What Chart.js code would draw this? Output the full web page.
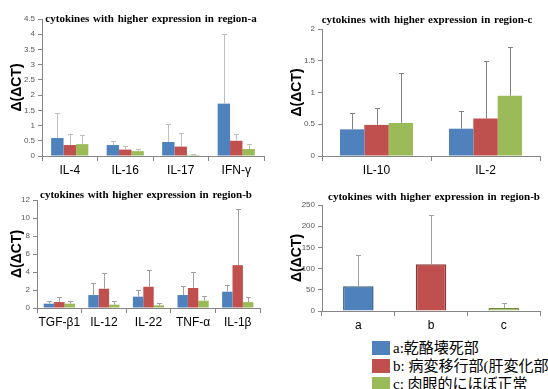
<!DOCTYPE html>
<html>
<head>
<meta charset="utf-8">
<script src="https://cdn.jsdelivr.net/npm/chart.js@4.4.1/dist/chart.umd.min.js"></script>
<style>
  body { margin: 0; background: #fff; }
  #page { position: relative; width: 548px; height: 389px; overflow: hidden; }
  canvas { position: absolute; }
  .title {
    position: absolute; white-space: nowrap; transform: translateX(-50%);
    font: bold 11px "Liberation Serif", "Times New Roman", serif; line-height: 12px; color: #000;
    word-spacing: 1px;
  }
  .leg { position: absolute; left: 372px; height: 15px; white-space: nowrap;
    font: 15px "Liberation Serif", "Noto Sans CJK JP", serif; line-height: 15px; color: #000; }
  .leg i { display: inline-block; width: 18px; height: 14px; vertical-align: top; margin-right: 3px; }
</style>
</head>
<body>
<div id="page">
  <canvas id="c1" width="280" height="180" style="left:0;top:0"></canvas>
  <canvas id="c2" width="268" height="180" style="left:280px;top:0"></canvas>
  <canvas id="c3" width="280" height="160" style="left:0;top:180px"></canvas>
  <canvas id="c4" width="268" height="150" style="left:280px;top:180px"></canvas>

  <div class="title" style="left:151px;top:12px">cytokines with higher expression in region-a</div>
  <div class="title" style="left:427px;top:13px">cytokines with higher expression in region-c</div>
  <div class="title" style="left:146px;top:188px">cytokines with higher expression in region-b</div>
  <div class="title" style="left:434px;top:190px">cytokines with higher expression in region-b</div>

  <div class="leg" style="top:341px"><i style="background:#4F81BD"></i>a:乾酪壊死部</div>
  <div class="leg" style="top:359px"><i style="background:#C0504D"></i>b: 病変移行部(肝変化部)</div>
  <div class="leg" style="top:377px"><i style="background:#9BBB59"></i>c: 肉眼的にほぼ正常</div>
</div>
<script>
/* ---- data ---- */
// region-a panel
const catA = ['IL-4', 'IL-16', 'IL-17', 'IFN-γ'];
const aBlue   = [0.59, 0.36, 0.46, 1.72];
const aBlueSd = [0.81, 0.14, 0.58, 2.28];
const aRed    = [0.36, 0.21, 0.31, 0.50];
const aRedSd  = [0.35, 0.12, 0.43, 0.21];
const aGreen  = [0.39, 0.16, 0.03, 0.23];
const aGreenSd= [0.29, 0.06, 0.02, 0.16];

// region-c panel
const catC = ['IL-10', 'IL-2'];
const cBlue   = [0.42, 0.43];
const cBlueSd = [0.25, 0.28];
const cRed    = [0.49, 0.59];
const cRedSd  = [0.26, 0.90];
const cGreen  = [0.52, 0.95];
const cGreenSd= [0.78, 0.77];

// region-b panel
const catB = ['TGF-β1', 'IL-12', 'IL-22', 'TNF-α', 'IL-1β'];
const bBlue   = [0.48, 1.44, 1.26, 1.44, 1.81];
const bBlueSd = [0.26, 1.33, 0.70, 1.00, 0.74];
const bRed    = [0.66, 2.14, 2.36, 2.22, 4.76];
const bRedSd  = [0.56, 1.74, 1.81, 1.73, 6.21];
const bGreen  = [0.48, 0.37, 0.30, 0.81, 0.66];
const bGreenSd= [0.26, 0.37, 0.25, 0.52, 0.56];

// overall panel (a, b, c)
const catAll = ['a', 'b', 'c'];
const allVals = [58.6, 110, 7];
const allSd   = [72.4, 116, 12.5];

const BLUE = '#4F81BD', RED = '#C0504D', GREEN = '#9BBB59';
const AXIS = '#868686';

/* ---- error bar plugin (upper only, with cap) ---- */
const errorBars = {
  id: 'errorBars',
  afterDatasetsDraw(chart, args, opts) {
    const ctx = chart.ctx;
    const y = chart.scales.y;
    ctx.save();
    ctx.strokeStyle = opts.color || '#999';
    ctx.lineWidth = 1;
    chart.data.datasets.forEach((ds, i) => {
      const meta = chart.getDatasetMeta(i);
      meta.data.forEach((bar, j) => {
        const top = Math.round(y.getPixelForValue(ds.data[j] + ds.sd[j])) + 0.5;
        const x = Math.round(bar.x) + 0.5;
        ctx.beginPath();
        ctx.moveTo(x, bar.y);
        ctx.lineTo(x, top);
        ctx.moveTo(x - 2.5, top);
        ctx.lineTo(x + 2.5, top);
        ctx.stroke();
      });
    });
    ctx.restore();
  }
};

function makeChart(id, labels, datasets, yMax, yStep, g) {
  return new Chart(document.getElementById(id), {
    type: 'bar',
    data: { labels: labels, datasets: datasets },
    plugins: [errorBars],
    options: {
      responsive: false,
      animation: false,
      layout: { padding: { left: 0, right: g.right, top: g.top, bottom: 0 } },
      datasets: { bar: { categoryPercentage: g.cat, barPercentage: g.bar || 1 } },
      plugins: {
        legend: { display: false },
        tooltip: { enabled: false },
        errorBars: { color: g.errColor }
      },
      scales: {
        x: {
          afterFit: s => { s.height = g.xh; },
          grid: { display: true, offset: true, drawOnChartArea: false, drawTicks: true,
                  tickLength: 5, color: AXIS },
          border: { color: AXIS },
          ticks: { color: '#000', padding: 2, maxRotation: 0,
                   font: { family: '"Liberation Sans", Arial', size: 12 } }
        },
        y: {
          min: 0, max: yMax,
          afterFit: s => { s.width = g.yw; },
          grid: { drawOnChartArea: false, tickLength: 4, color: AXIS },
          border: { color: AXIS },
          ticks: { stepSize: yStep, color: '#595959', padding: 3,
                   callback: v => String(Math.round(v * 100) / 100),
                   font: { family: '"Liberation Sans", Arial', size: 8 } },
          title: { display: true, text: 'Δ(ΔCT)', color: '#000', padding: { top: 9, bottom: 0 },
                   font: { family: '"Liberation Sans", Arial', size: 14, weight: 'bold' } }
        }
      }
    }
  });
}

function trio(b, bs, r, rs, gr, gs) {
  return [
    { data: b, sd: bs, backgroundColor: BLUE },
    { data: r, sd: rs, backgroundColor: RED },
    { data: gr, sd: gs, backgroundColor: GREEN }
  ];
}

makeChart('c1', catA, trio(aBlue, aBlueSd, aRed, aRedSd, aGreen, aGreenSd), 4.5, 0.5,
  { right: 16, top: 19, xh: 24, yw: 42, cat: 0.67, errColor: '#BFBFBF' });

makeChart('c2', catC, trio(cBlue, cBlueSd, cRed, cRedSd, cGreen, cGreenSd), 2, 0.5,
  { right: 8, top: 29, xh: 24, yw: 42, cat: 0.67, errColor: '#808080' });

makeChart('c3', catB, trio(bBlue, bBlueSd, bRed, bRedSd, bGreen, bGreenSd), 12, 2,
  { right: 20, top: 20, xh: 32, yw: 37, cat: 0.7, errColor: '#A0A0A0' });

makeChart('c4', catAll, [{
    data: allVals, sd: allSd,
    backgroundColor: [BLUE, RED, GREEN],
    borderColor: ['#385D8A', '#8C3836', '#71893F'],
    borderWidth: 1.5
  }], 250, 50,
  { right: 8, top: 25, xh: 19, yw: 42, cat: 1, bar: 0.42, errColor: '#A0A0A0' });
</script>
</body>
</html>
